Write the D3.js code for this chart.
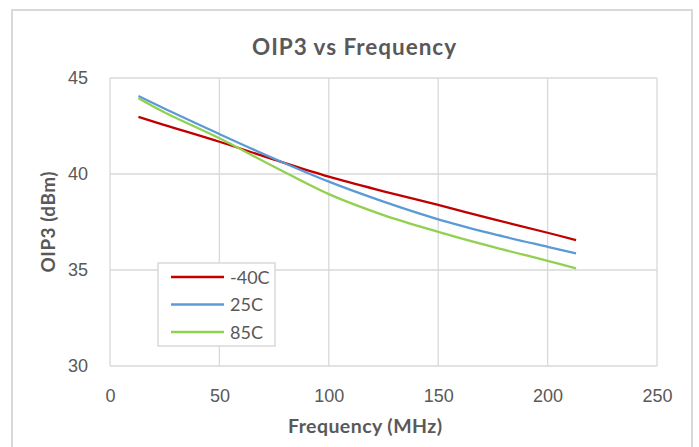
<!DOCTYPE html>
<html>
<head>
<meta charset="utf-8">
<script src="https://cdn.jsdelivr.net/npm/d3@7"></script>
<style>
  body { margin: 0; background: #fff; }
  svg { font-family: Lato, "Open Sans", sans-serif; }
  .tick text { fill: #595959; font-size: 18px; }
</style>
</head>
<body>
<div id="plot"></div>
<script>
// data
var freqs = [13, 25, 50, 75, 100, 125, 150, 175, 200, 213];
var oipM40 = [42.98, 42.55, 41.68, 40.75, 39.86, 39.1, 38.39, 37.65, 36.94, 36.56];
var oip25 = [44.06, 43.4, 42.08, 40.8, 39.6, 38.56, 37.64, 36.88, 36.21, 35.87];
var oip85 = [43.94, 43.2, 41.86, 40.38, 38.95, 37.86, 36.99, 36.2, 35.48, 35.09];
var seriesNames = ["-40C", "25C", "85C"];
var xTicks = [0, 50, 100, 150, 200, 250];
var yTicks = [30, 35, 40, 45];

var colors = ["#C00000", "#5B9BD5", "#92D050"];
var series = [oipM40, oip25, oip85].map(function(vals, i) {
  return { name: seriesNames[i], color: colors[i],
    values: vals.map(function(v, j) { return { f: freqs[j], v: v }; }) };
});

var W = 699, H = 447;
var margin = {top: 78, left: 110};
var width = 657 - margin.left;
var height = 366 - margin.top;

var svg = d3.select("#plot").append("svg")
    .attr("width", W).attr("height", H);

// chart frame
svg.append("rect")
    .attr("x", 12).attr("y", 10)
    .attr("width", 680).attr("height", 460)
    .attr("fill", "#fff").attr("stroke", "#D9D9D9").attr("stroke-width", 2);

svg.append("text")
    .attr("x", 354).attr("y", 55)
    .attr("text-anchor", "middle")
    .attr("textLength", 204).attr("lengthAdjust", "spacing")
    .style("font-size", "22.5px").style("font-weight", "bold")
    .attr("fill", "#595959")
    .text("OIP3 vs Frequency");

var g = svg.append("g")
    .attr("transform", "translate(" + margin.left + "," + margin.top + ")");

var xScale = d3.scaleLinear().domain([0, 250]).range([0, width]);
var yScale = d3.scaleLinear().domain([30, 45]).range([height, 0]);

// gridlines
g.selectAll(".vgrid").data(xTicks).enter().append("line")
    .attr("x1", function(d) { return xScale(d); })
    .attr("x2", function(d) { return xScale(d); })
    .attr("y1", 0).attr("y2", height)
    .attr("stroke", "#D9D9D9").attr("stroke-width", 1.3);
g.selectAll(".hgrid").data(yTicks).enter().append("line")
    .attr("y1", function(d) { return yScale(d); })
    .attr("y2", function(d) { return yScale(d); })
    .attr("x1", 0).attr("x2", width)
    .attr("stroke", "#D9D9D9").attr("stroke-width", 1.3);

var xAxis = d3.axisBottom(xScale).tickValues(xTicks).tickSize(0).tickPadding(23);
var yAxis = d3.axisLeft(yScale).tickValues(yTicks).tickSize(0).tickPadding(22);

g.append("g").attr("transform", "translate(0," + height + ")")
    .call(xAxis).call(function(a) { a.select(".domain").remove(); });
g.append("g")
    .call(yAxis).call(function(a) { a.select(".domain").remove(); });

// axis titles
svg.append("text")
    .attr("transform", "translate(365,433)")
    .attr("text-anchor", "middle")
    .attr("textLength", 154).attr("lengthAdjust", "spacing")
    .style("font-size", "19.5px").style("font-weight", "bold")
    .attr("fill", "#595959")
    .text("Frequency (MHz)");
svg.append("text")
    .attr("transform", "translate(55,222) rotate(-90)")
    .attr("text-anchor", "middle")
    .attr("textLength", 101).attr("lengthAdjust", "spacing")
    .style("font-size", "19px").style("font-weight", "bold")
    .attr("fill", "#595959")
    .text("OIP3 (dBm)");

var line = d3.line()
    .x(function(d) { return xScale(d.f); })
    .y(function(d) { return yScale(d.v); })
    .curve(d3.curveCatmullRom.alpha(0.5));

g.selectAll(".series").data(series).enter().append("path")
    .attr("d", function(d) { return line(d.values); })
    .attr("fill", "none")
    .attr("stroke", function(d) { return d.color; })
    .attr("stroke-width", 2.3);

// legend
var leg = svg.append("g").attr("transform", "translate(158,263)");
leg.append("rect").attr("x", 0).attr("y", 0)
    .attr("width", 117).attr("height", 83)
    .attr("fill", "#fff").attr("stroke", "#D9D9D9").attr("stroke-width", 1.5);
series.forEach(function(s, i) {
  var yy = 14 + i * 27.5;
  leg.append("line").attr("x1", 13).attr("x2", 66)
      .attr("y1", yy).attr("y2", yy)
      .attr("stroke", s.color).attr("stroke-width", 2.3);
  leg.append("text").attr("x", 72).attr("y", yy + 6.5)
      .style("font-size", "18px").attr("fill", "#595959")
      .text(s.name);
});
</script>
</body>
</html>
